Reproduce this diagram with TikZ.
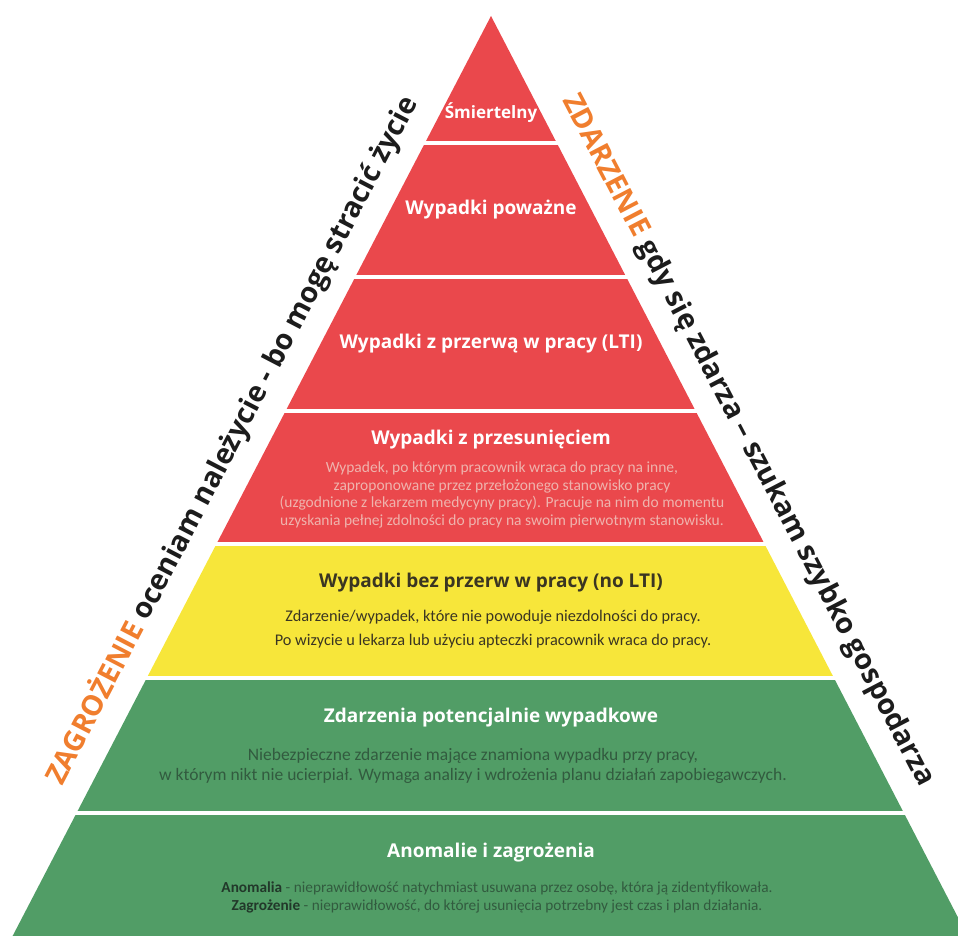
\documentclass[tikz,border=0pt]{standalone}
\usepackage{fontspec}
\setmainfont{Open Sans}
\newfontfamily\descfont{Carlito}
\definecolor{pyrred}{HTML}{EA484C}
\definecolor{pyryellow}{HTML}{F7E63A}
\definecolor{pyrgreen}{HTML}{519D66}
\definecolor{sideorange}{HTML}{F07E2E}
\definecolor{sideblack}{HTML}{1C1C1C}
\definecolor{redtxt}{HTML}{EFB3AD}
\definecolor{yeltxt}{HTML}{3A3522}
\definecolor{grntxt}{HTML}{325B3F}
\definecolor{grnbold}{HTML}{22382A}
\newcommand\pyrband[3]{%
  \begin{scope}
    \clip (0,#1) rectangle (958,#2);
    \fill[#3] (apex) -- (bl) -- (br) -- cycle;
  \end{scope}}
\begin{document}
\begin{tikzpicture}[x=1pt,y=-1pt,
  ttl/.style={font=\bfseries\fontsize{19}{22}\selectfont, inner sep=0pt, anchor=center},
  desc/.style={font=\descfont\fontsize{15.5}{17.7}\selectfont, align=center, inner sep=0pt, anchor=center},
  side/.style={font=\bfseries\fontsize{28.5}{32}\selectfont, text=sideblack, inner sep=0pt, anchor=base west}]
\useasboundingbox (0,0) rectangle (958,936);
\clip (0,0) rectangle (958,936);
\coordinate (apex) at (491,16);
\coordinate (bl) at (12.6,936);
\coordinate (br) at (967.6,936);
% bands
\pyrband{16}{141}{pyrred}
\pyrband{146}{274}{pyrred}
\pyrband{279}{408}{pyrred}
\pyrband{413}{541}{pyrred}
\pyrband{546}{675}{pyryellow}
\pyrband{680}{810}{pyrgreen}
\pyrband{815}{940}{pyrgreen}
% titles
\node[ttl, text=white, font=\bfseries\fontsize{17}{20}\selectfont] (t1) at (491,113) {Śmiertelny};
\node[ttl, text=white] (t2) at (491,210) {Wypadki poważne};
\node[ttl, text=white] (t3) at (491,344) {Wypadki z przerwą w pracy (LTI)};
\node[ttl, text=white] (t4) at (491,440) {Wypadki z przesunięciem};
\node[desc, text=redtxt] (d4) at (502,495) {Wypadek, po którym pracownik wraca do pracy na inne,\\zaproponowane przez przełożonego stanowisko pracy\\(uzgodnione z lekarzem medycyny pracy). Pracuje na nim do momentu\\uzyskania pełnej zdolności do pracy na swoim pierwotnym stanowisku.};
\node[ttl, text=yeltxt] (t5) at (491,583) {Wypadki bez przerw w pracy (no LTI)};
\node[desc, text=yeltxt, font=\descfont\fontsize{16.3}{24}\selectfont] (d5) at (493,629) {Zdarzenie/wypadek, które nie powoduje niezdolności do pracy.\\Po wizycie u lekarza lub użyciu apteczki pracownik wraca do pracy.};
\node[ttl, text=white] (t6) at (491,718) {Zdarzenia potencjalnie wypadkowe};
\node[desc, text=grntxt, font=\descfont\fontsize{17.5}{19.5}\selectfont] (d6) at (473,766) {Niebezpieczne zdarzenie mające znamiona wypadku przy pracy,\\w którym nikt nie ucierpiał. Wymaga analizy i wdrożenia planu działań zapobiegawczych.};
\node[ttl, text=white] (t7) at (491,853) {Anomalie i zagrożenia};
\node[desc, text=grntxt, font=\descfont\fontsize{15.3}{18}\selectfont] (d7) at (497,897) {{\bfseries\color{grnbold}Anomalia} - nieprawidłowość natychmiast usuwana przez osobę, która ją zidentyfikowała.\\{\bfseries\color{grnbold}Zagrożenie} - nieprawidłowość, do której usunięcia potrzebny jest czas i plan działania.};
% side texts
\node[side, rotate=62.5] (sl) at (62,787) {\textcolor{sideorange}{ZAGROŻENIE} oceniam należycie - bo mogę stracić życie};
\node[side, rotate=-62.5] (sr) at (562,100) {\textcolor{sideorange}{ZDARZENIE} gdy się zdarza – szukam szybko gospodarza};
\end{tikzpicture}
\end{document}
